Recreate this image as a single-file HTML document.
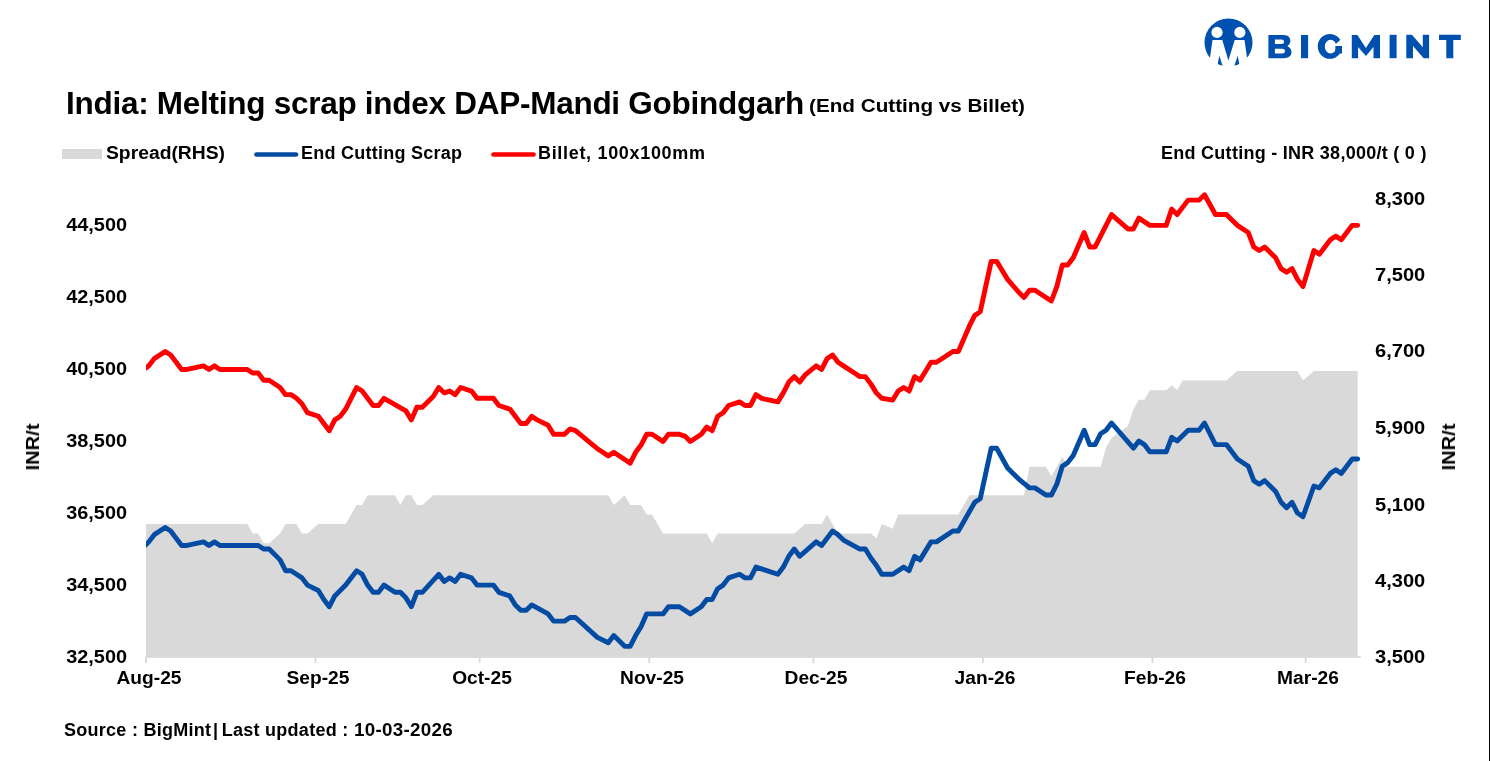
<!DOCTYPE html>
<html><head><meta charset="utf-8">
<style>
html,body{margin:0;padding:0;background:#fff;}
body{width:1490px;height:761px;position:relative;overflow:hidden;font-family:"Liberation Sans",sans-serif;color:#000;}
.t{position:absolute;white-space:nowrap;font-weight:bold;font-size:18px;line-height:20px;will-change:transform;}
.yl{right:1362.6px;transform:scaleX(1.105);transform-origin:100% 50%;}
.yr{left:1375.3px;transform:scaleX(1.115);transform-origin:0 50%;}
.xl{top:668px;width:120px;text-align:center;transform:scaleX(1.065);}
.rot{transform:translate(-50%,-50%) rotate(-90deg) scaleX(1.115);}
svg{position:absolute;left:0;top:0;}
</style></head><body>
<svg width="1490" height="761" viewBox="0 0 1490 761">
<defs><clipPath id="pc"><rect x="146" y="150" width="1220" height="507.8"/></clipPath>
<clipPath id="lc"><circle cx="1228.5" cy="42.5" r="24"/></clipPath></defs>
<g clip-path="url(#pc)">
<path d="M143.33,524.02 L247.26,524.02 L252.73,533.59 L258.20,533.59 L263.67,543.15 L269.14,543.15 L280.08,533.59 L285.55,524.02 L296.49,524.02 L301.96,533.59 L307.43,533.59 L318.37,524.02 L345.72,524.02 L356.66,504.90 L362.13,504.90 L367.60,495.34 L394.95,495.34 L400.42,504.90 L405.89,495.34 L411.36,495.34 L416.83,504.90 L422.30,504.90 L433.24,495.34 L608.28,495.34 L613.75,504.90 L624.69,495.34 L630.16,504.90 L641.10,504.90 L646.57,514.46 L652.04,514.46 L662.98,533.59 L706.74,533.59 L712.21,543.15 L717.68,533.59 L794.26,533.59 L805.20,524.02 L821.61,524.02 L827.08,514.46 L838.02,533.59 L870.84,533.59 L876.31,538.37 L881.78,524.02 L892.72,528.81 L898.19,514.46 L958.36,514.46 L969.30,495.34 L1024.00,495.34 L1029.47,466.65 L1045.88,466.65 L1051.35,476.21 L1056.82,466.65 L1062.29,457.09 L1067.76,466.65 L1073.23,466.65 L1078.70,466.65 L1084.17,466.65 L1089.64,466.65 L1095.11,466.65 L1100.58,466.65 L1106.05,447.52 L1111.52,437.96 L1116.99,433.98 L1122.46,429.99 L1127.93,426.01 L1133.40,409.27 L1138.87,399.71 L1144.34,399.71 L1149.81,390.15 L1166.22,390.15 L1171.69,385.37 L1177.16,390.15 L1182.63,380.59 L1226.39,380.59 L1237.33,371.02 L1297.50,371.02 L1302.97,380.59 L1313.91,371.02 L1357.67,371.02 L1357.67,657.8 L143.33,657.8 Z" fill="#d9d9d9"/>
<path d="M143.33,547.27 L148.80,541.87 L154.27,534.66 L165.21,527.46 L170.68,531.06 L181.62,545.47 L187.09,545.47 L203.50,541.87 L208.97,545.47 L214.44,541.87 L219.91,545.47 L258.20,545.47 L263.67,549.07 L269.14,549.07 L280.08,559.88 L285.55,570.69 L291.02,570.69 L296.49,574.29 L301.96,577.89 L307.43,585.10 L318.37,590.50 L323.84,599.51 L329.31,606.71 L334.78,595.91 L340.25,590.50 L345.72,585.10 L356.66,570.69 L362.13,574.29 L367.60,585.10 L373.07,592.30 L378.54,592.30 L384.01,585.10 L394.95,592.30 L400.42,592.30 L405.89,597.71 L411.36,606.71 L416.83,592.30 L422.30,592.30 L438.71,574.29 L444.18,581.50 L449.65,577.89 L455.12,581.50 L460.59,574.29 L471.53,577.89 L477.00,585.10 L493.41,585.10 L498.88,592.30 L509.82,595.91 L515.29,604.91 L520.76,610.32 L526.23,610.32 L531.70,604.91 L548.11,613.92 L553.58,621.12 L564.52,621.12 L569.99,617.52 L575.46,617.52 L597.34,637.34 L608.28,642.74 L613.75,635.53 L624.69,646.34 L630.16,646.34 L635.63,635.53 L641.10,626.53 L646.57,613.92 L662.98,613.92 L668.45,606.71 L679.39,606.71 L690.33,613.92 L701.27,606.71 L706.74,599.51 L712.21,599.51 L717.68,588.70 L723.15,585.10 L728.62,577.89 L739.56,574.29 L745.03,577.89 L750.50,577.89 L755.97,567.09 L761.44,568.89 L777.85,574.29 L783.32,567.09 L788.79,556.28 L794.26,549.07 L799.73,556.28 L816.14,541.87 L821.61,545.47 L832.55,531.06 L838.02,534.66 L843.49,540.07 L859.90,549.07 L865.37,549.07 L870.84,558.08 L876.31,565.29 L881.78,574.29 L892.72,574.29 L903.66,567.09 L909.13,570.69 L914.60,556.28 L920.07,559.88 L931.01,541.87 L936.48,541.87 L952.89,531.06 L958.36,531.06 L974.77,502.24 L980.24,498.64 L991.18,448.20 L996.65,448.20 L1007.59,468.02 L1013.06,473.42 L1018.53,478.83 L1029.47,487.83 L1034.94,487.83 L1045.88,495.04 L1051.35,495.04 L1056.82,484.23 L1062.29,466.22 L1067.76,462.62 L1073.23,455.41 L1084.17,430.19 L1089.64,444.60 L1095.11,444.60 L1100.58,433.80 L1106.05,430.19 L1111.52,422.99 L1133.40,448.20 L1138.87,441.00 L1144.34,444.60 L1149.81,451.81 L1166.22,451.81 L1171.69,437.40 L1177.16,441.00 L1188.10,430.19 L1199.04,430.19 L1204.51,422.99 L1215.45,444.60 L1226.39,444.60 L1237.33,459.01 L1248.27,466.22 L1253.74,480.63 L1259.21,484.23 L1264.68,480.63 L1275.62,491.44 L1281.09,502.24 L1286.56,507.65 L1292.03,502.24 L1297.50,513.05 L1302.97,516.65 L1313.91,486.03 L1319.38,487.83 L1330.32,473.42 L1335.79,469.82 L1341.26,473.42 L1352.20,459.01 L1357.67,459.01" fill="none" stroke="#044ca3" stroke-width="4.9" stroke-linejoin="round" stroke-linecap="round"/>
<path d="M143.33,369.45 L148.80,365.85 L154.27,358.64 L165.21,351.44 L170.68,355.04 L181.62,369.45 L187.09,369.45 L203.50,365.85 L208.97,369.45 L214.44,365.85 L219.91,369.45 L247.26,369.45 L252.73,373.05 L258.20,373.05 L263.67,380.26 L269.14,380.26 L280.08,387.46 L285.55,394.67 L291.02,394.67 L296.49,398.27 L301.96,403.67 L307.43,412.68 L318.37,416.28 L323.84,423.49 L329.31,430.69 L334.78,419.89 L340.25,416.28 L345.72,409.08 L356.66,387.46 L362.13,391.06 L367.60,398.27 L373.07,405.48 L378.54,405.48 L384.01,398.27 L405.89,410.88 L411.36,419.89 L416.83,407.28 L422.30,407.28 L433.24,396.47 L438.71,387.46 L444.18,392.87 L449.65,391.06 L455.12,394.67 L460.59,387.46 L471.53,391.06 L477.00,398.27 L493.41,398.27 L498.88,405.48 L509.82,409.08 L515.29,416.28 L520.76,423.49 L526.23,423.49 L531.70,416.28 L537.17,419.89 L548.11,425.29 L553.58,434.30 L564.52,434.30 L569.99,428.89 L575.46,430.69 L597.34,448.70 L602.81,452.31 L608.28,455.91 L613.75,452.31 L624.69,459.51 L630.16,463.12 L635.63,452.31 L641.10,445.10 L646.57,434.30 L652.04,434.30 L662.98,441.50 L668.45,434.30 L679.39,434.30 L684.86,436.10 L690.33,441.50 L701.27,434.30 L706.74,427.09 L712.21,430.69 L717.68,416.28 L723.15,412.68 L728.62,405.48 L739.56,401.87 L745.03,405.48 L750.50,405.48 L755.97,394.67 L761.44,398.27 L777.85,401.87 L783.32,392.87 L788.79,382.06 L794.26,376.66 L799.73,382.06 L805.20,374.85 L816.14,365.85 L821.61,369.45 L827.08,358.64 L832.55,355.04 L838.02,362.25 L843.49,365.85 L854.43,373.05 L859.90,376.66 L865.37,376.66 L870.84,383.86 L876.31,392.87 L881.78,398.27 L892.72,400.07 L898.19,391.06 L903.66,387.46 L909.13,391.06 L914.60,376.66 L920.07,380.26 L931.01,362.25 L936.48,362.25 L952.89,351.44 L958.36,351.44 L969.30,326.22 L974.77,315.41 L980.24,311.81 L991.18,261.38 L996.65,261.38 L1007.59,279.39 L1018.53,292.00 L1024.00,297.40 L1029.47,290.19 L1034.94,290.19 L1051.35,301.00 L1056.82,286.59 L1062.29,264.98 L1067.76,264.98 L1073.23,257.77 L1084.17,232.56 L1089.64,246.97 L1095.11,246.97 L1100.58,236.16 L1111.52,214.54 L1127.93,228.95 L1133.40,228.95 L1138.87,218.15 L1149.81,225.35 L1166.22,225.35 L1171.69,209.14 L1177.16,214.54 L1188.10,200.13 L1199.04,200.13 L1204.51,194.73 L1215.45,214.54 L1226.39,214.54 L1237.33,225.35 L1248.27,232.56 L1253.74,246.97 L1259.21,250.57 L1264.68,246.97 L1275.62,257.77 L1281.09,268.58 L1286.56,272.18 L1292.03,268.58 L1297.50,279.39 L1302.97,286.59 L1313.91,250.57 L1319.38,254.17 L1330.32,239.76 L1335.79,236.16 L1341.26,239.76 L1352.20,225.35 L1357.67,225.35" fill="none" stroke="#ff0000" stroke-width="4.9" stroke-linejoin="round" stroke-linecap="round"/>
</g>
<g stroke="#d9d9d9" stroke-width="1.8">
<line x1="146.00" y1="656" x2="146.00" y2="663"/>
<line x1="315.57" y1="656" x2="315.57" y2="663"/>
<line x1="479.67" y1="656" x2="479.67" y2="663"/>
<line x1="649.24" y1="656" x2="649.24" y2="663"/>
<line x1="813.34" y1="656" x2="813.34" y2="663"/>
<line x1="982.91" y1="656" x2="982.91" y2="663"/>
<line x1="1152.48" y1="656" x2="1152.48" y2="663"/>
<line x1="1305.64" y1="656" x2="1305.64" y2="663"/>
<line x1="146" y1="656.9" x2="1360.7" y2="656.9"/>
</g>
<!-- legend -->
<rect x="62" y="149" width="40" height="10" fill="#d9d9d9"/>
<line x1="256.5" y1="154.5" x2="296" y2="154.5" stroke="#044ca3" stroke-width="4.7" stroke-linecap="round"/>
<line x1="493.5" y1="154.5" x2="533.5" y2="154.5" stroke="#ff0000" stroke-width="4.7" stroke-linecap="round"/>
<!-- logo -->
<circle cx="1228.5" cy="42.5" r="24" fill="#0050af"/>
<path d="M1212.5,39.9 L1222.3,39.9 L1228.4,60.4 L1234.7,39.9 L1244.5,39.9 L1247,57.5 L1256,80 L1201,80 L1210,57.5 Z" fill="#fff"/>
<g clip-path="url(#lc)"><path d="M1219.3,55.7 L1216.5,70 L1224,70 Z M1237.7,55.7 L1240.5,70 L1233,70 Z" fill="#0050af"/></g>
<circle cx="1217" cy="32.4" r="5.6" fill="#fff"/>
<circle cx="1239.8" cy="32.4" r="5.6" fill="#fff"/>
<g fill="#0050af">
<!-- B -->
<path fill-rule="evenodd" d="M1268.4,35 H1283.5 C1288.5,35 1290.4,38 1290.4,40.8 C1290.4,43 1289.2,45 1287.4,46.2 C1290,47.2 1291.5,49.5 1291.5,52.3 C1291.5,56 1288.6,58.2 1283.5,58.2 H1268.4 Z M1274.9,39.5 V44.1 H1281.6 C1283.5,44.1 1284,43 1284,41.8 C1284,40.5 1283.3,39.5 1281.6,39.5 Z M1274.9,48.7 V53.5 H1282.2 C1284.2,53.5 1285,52.5 1285,51.1 C1285,49.7 1284.2,48.7 1282.2,48.7 Z"/>
<rect x="1301" y="35" width="7.1" height="23.2"/>
<!-- G -->
<path fill-rule="evenodd" d="M1317.8,46.4 A12.1,12.4 0 1 0 1342,46.4 A12.1,12.4 0 1 0 1317.8,46.4 Z M1324.8,46.6 A5.8,6.9 0 1 0 1336.4,46.6 A5.8,6.9 0 1 0 1324.8,46.6 Z"/>
<rect x="1335.3" y="46" width="6.7" height="7.5"/>
<!-- M -->
<path d="M1351.8,35 H1357.4 L1365.9,48.1 L1374.3,35 H1380 V58.2 H1373.5 V46.9 L1365.9,55.9 L1358.1,46.9 V58.2 H1351.8 Z"/>
<rect x="1389.6" y="34.8" width="7" height="23.4"/>
<path d="M1406.3,34.8 H1411.9 L1422.8,47.2 V34.8 H1429.1 V58.2 H1423.7 L1413,46.1 V58.2 H1406.3 Z"/>
<path d="M1439,34.8 H1460.8 V39.9 H1453.3 V58.2 H1446.3 V39.9 H1439 Z"/>
</g>
<polygon points="1333.5,46 1349,46 1349,31.9" fill="#fff"/>
<line x1="1489.5" y1="0" x2="1489.5" y2="761" stroke="#000" stroke-width="1"/>
</svg>
<div class="t" id="title" style="left:66px;top:88px;font-size:31.5px;line-height:31.5px;letter-spacing:-0.27px;">India: Melting scrap index DAP-Mandi Gobindgarh</div>
<div class="t" id="sub" style="left:809px;top:96.2px;transform:scaleX(1.149);transform-origin:0 50%;">(End Cutting vs Billet)</div>
<div class="t" id="l1" style="left:105.5px;top:143px;transform:scaleX(1.072);transform-origin:0 50%;">Spread(RHS)</div>
<div class="t" id="l2" style="left:301px;top:143px;letter-spacing:0.25px;">End Cutting Scrap</div>
<div class="t" id="l3" style="left:538px;top:143.3px;letter-spacing:0.68px;">Billet, 100x100mm</div>
<div class="t" id="hdr" style="right:63px;top:143.3px;letter-spacing:0.27px;">End Cutting - INR 38,000/t ( 0 )</div>
<div class="t" id="src" style="left:63.5px;top:720px;letter-spacing:0.27px;">Source : BigMint<span style="margin-left:-3.5px;margin-right:-2px;"> | </span>Last updated : <span style="display:inline-block;transform:scaleX(1.045);transform-origin:0 50%;">10-03-2026</span></div>
<div class="t yl" style="top:215.1px;">44,500</div>
<div class="t yl" style="top:287.3px;">42,500</div>
<div class="t yl" style="top:359.2px;">40,500</div>
<div class="t yl" style="top:431.2px;">38,500</div>
<div class="t yl" style="top:503.3px;">36,500</div>
<div class="t yl" style="top:575.3px;">34,500</div>
<div class="t yl" style="top:647.4px;">32,500</div>
<div class="t yr" style="top:189.3px;">8,300</div>
<div class="t yr" style="top:265.2px;">7,500</div>
<div class="t yr" style="top:340.9px;">6,700</div>
<div class="t yr" style="top:418.1px;">5,900</div>
<div class="t yr" style="top:494.7px;">5,100</div>
<div class="t yr" style="top:570.6px;">4,300</div>
<div class="t yr" style="top:646.9px;">3,500</div>
<div class="t xl" style="left:88.5px;">Aug-25</div>
<div class="t xl" style="left:258.1px;">Sep-25</div>
<div class="t xl" style="left:422.2px;">Oct-25</div>
<div class="t xl" style="left:591.7px;">Nov-25</div>
<div class="t xl" style="left:755.8px;">Dec-25</div>
<div class="t xl" style="left:925.4px;">Jan-26</div>
<div class="t xl" style="left:1095.0px;">Feb-26</div>
<div class="t xl" style="left:1248.1px;">Mar-26</div>
<div class="t rot" style="left:33px;top:447px;">INR/t</div>
<div class="t rot" style="left:1449px;top:447px;">INR/t</div>

</body></html>
